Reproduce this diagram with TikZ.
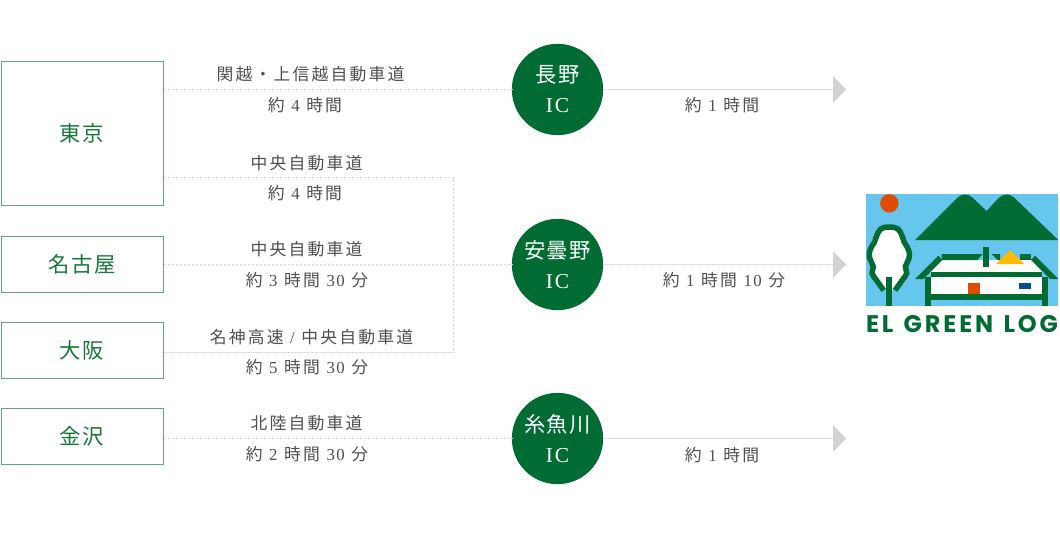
\documentclass[tikz,border=0pt]{standalone}
\usepackage{fontspec}
\setmainfont{Liberation Serif}[LetterSpace=9,WordSpace=1.15]
\newfontfamily\cjk{Noto Sans CJK JP}[LetterSpace=13]
\newfontfamily\cjkb{Noto Sans CJK JP}[LetterSpace=7]
\newfontfamily\logofont{Poppins}[UprightFont=* Bold,LetterSpace=12,WordSpace=1.3]
\newcommand{\Ja}[1]{{\cjk #1}}
\newcommand{\Jb}[1]{{\cjkb #1}}
\definecolor{dgreen}{HTML}{006B32}
\definecolor{boxline}{HTML}{5FA67C}
\definecolor{boxtext}{HTML}{17783C}
\definecolor{dotline}{HTML}{D8D8D8}
\definecolor{tri}{HTML}{D2D2D2}
\definecolor{labeltext}{HTML}{505050}
\definecolor{sky}{HTML}{66C6EE}
\definecolor{sunc}{HTML}{E04B00}
\definecolor{roofy}{HTML}{FFB900}
\definecolor{winb}{HTML}{00508C}
\tikzset{
  citybox/.style={draw=boxline,line width=0.75pt,fill=white,text=boxtext,font=\fontsize{16}{18}\selectfont,minimum width=121.5pt,inner sep=0pt,anchor=center},
  icnode/.style={circle,fill=dgreen,text=white,minimum size=68.5pt,inner sep=0pt,align=center,font=\fontsize{16}{22.5}\selectfont},
  roadlabel/.style={text=labeltext,font=\fontsize{12.6}{14}\selectfont,inner sep=0pt,anchor=center},
  dotted line/.style={draw=dotline,line width=0.75pt,dash pattern=on 1.8pt off 1.2pt},
  tritip/.style={fill=tri},
  lg/.style={fill=dgreen,draw=none}
}
\begin{document}
\begin{tikzpicture}[x=0.75pt,y=-0.75pt]
\useasboundingbox (0,0) rectangle (1060,543);
\node[citybox,minimum height=108pt] (tokyo) at (82,133) {\Jb{東京}};
\node[citybox,minimum height=42.5pt] (nagoya) at (82,264.5) {\raisebox{0.7pt}{\Jb{名古屋}}};
\node[citybox,minimum height=42.5pt] (osaka) at (82,350.5) {\raisebox{1pt}{\Jb{大阪}}};
\node[citybox,minimum height=42.5pt] (kanazawa) at (82,436.5) {\raisebox{1pt}{\Jb{金沢}}};
\node[icnode] (nagano) at (557.5,89.5) {\raisebox{-1.5pt}{\Jb{長野}}\\\raisebox{-1.5pt}{IC}};
\node[icnode] (azumino) at (557.5,264.5) {\raisebox{-1.5pt}{\Jb{安曇野}}\\\raisebox{-1.5pt}{IC}};
\node[icnode] (itoigawa) at (557.5,438.5) {\raisebox{-1.5pt}{\Jb{糸魚川}}\\\raisebox{-1.5pt}{IC}};
\coordinate (a1) at (833,89.5);
\coordinate (a2) at (833,264.5);
\coordinate (a3) at (833,438.5);
\coordinate (j1) at (453,177.5);
\coordinate (j2) at (453,352.5);
\draw[dotted line] (tokyo.east |- nagano) -- (nagano.west);
\draw[dotted line] (nagano.east) -- (a1);
\draw[dotted line] (tokyo.east |- j1) -- (j1) -- (j2) -- (osaka.east |- j2);
\draw[dotted line] (nagoya.east) -- (azumino.west);
\draw[dotted line] (azumino.east) -- (a2);
\draw[dotted line] (kanazawa.east |- itoigawa) -- (itoigawa.west);
\draw[dotted line] (itoigawa.east) -- (a3);
\foreach \a in {a1,a2,a3}{
  \fill[tritip,shift={(\a)}] (0,-13.5) -- (13,0) -- (0,13.5) -- cycle;
}
% labels
\node[roadlabel] (l1) at (310.5,74) {\Ja{関越・上信越自動車道}};
\node[roadlabel] (l2) at (305,105) {\Ja{約} 4 \Ja{時間}};
\node[roadlabel] (l3) at (306.5,163) {\Ja{中央自動車道}};
\node[roadlabel] (l4) at (305,193) {\Ja{約} 4 \Ja{時間}};
\node[roadlabel] (l5) at (306.5,249) {\Ja{中央自動車道}};
\node[roadlabel] (l6) at (307,280) {\Ja{約} 3 \Ja{時間} 30 \Ja{分}};
\node[roadlabel] (l7) at (311.5,337) {\Ja{名神高速} / \Ja{中央自動車道}};
\node[roadlabel] (l8) at (307,367) {\Ja{約} 5 \Ja{時間} 30 \Ja{分}};
\node[roadlabel] (l9) at (306.5,423) {\Ja{北陸自動車道}};
\node[roadlabel] (l10) at (307,454) {\Ja{約} 2 \Ja{時間} 30 \Ja{分}};
\node[roadlabel] (l11) at (722,105) {\Ja{約} 1 \Ja{時間}};
\node[roadlabel] (l12) at (724,280) {\Ja{約} 1 \Ja{時間} 10 \Ja{分}};
\node[roadlabel] (l13) at (722,455) {\Ja{約} 1 \Ja{時間}};
% logo, in zoom coordinates
\begin{scope}[shift={(860,185)},x=0.25pt,y=-0.25pt]
\fill[sky] (18,28) rectangle (595,362);
\fill[sunc] (88,55) circle [radius=27.5];
\fill[lg] (165,165) -- (285,45) .. controls (305,23) and (325,23) .. (345,45) -- (380,78) -- (410,45) .. controls (430,23) and (450,23) .. (470,45) -- (595,165) -- cycle;
% tree
\path[fill=white] plot[smooth cycle,tension=0.7] coordinates {(88,126) (114,132) (127,155) (133,172) (146,195) (147,220) (136,245) (140,265) (125,288) (100,312) (88,325) (76,312) (51,288) (36,265) (40,245) (29,220) (30,195) (43,172) (49,155) (62,132)};
\draw[dgreen,line width=4.1pt] plot[smooth,tension=0.7] coordinates {(105,316) (125,288) (140,265) (136,245) (147,220) (146,195) (133,172) (127,155) (114,132) (88,126) (62,132) (49,155) (43,172) (30,195) (29,220) (40,245) (36,265) (51,288) (71,316)};
\fill[lg] (79,275) rectangle (97,362);
% house
\fill[white] (210,262) -- (245,225) -- (515,225) -- (548,262) -- cycle;
\fill[white] (213,277) rectangle (547,330);
\fill[lg] (245,207) -- (368,207) -- (352,225) -- (245,225) -- cycle;
\fill[lg] (395,207) -- (420,207) -- (420,225) -- (413,225) -- cycle;
\fill[lg] (480,207) -- (513,207) -- (513,225) -- (480,225) -- cycle;
\fill[lg] (370,186) rectangle (388,245);
\fill[roofy] (408,237) -- (450,195) -- (492,237) -- cycle;
\fill[lg] (165,282) -- (235,212) -- (247,225) -- (190,282) -- cycle;
\fill[lg] (595,282) -- (525,212) -- (513,225) -- (570,282) -- cycle;
\fill[lg] (213,260) rectangle (547,277);
\fill[lg] (195,275) rectangle (213,362);
\fill[lg] (547,275) rectangle (565,362);
\fill[lg] (195,328) rectangle (565,345);
\fill[sunc] (324,293) rectangle (360,328);
\fill[winb] (478,293) rectangle (513,311);
\node[text=dgreen,inner sep=0pt,anchor=center,font=\logofont\fontsize{18}{18}\selectfont] (logotext) at (306,417) {EL GREEN LOG};
\end{scope}
\end{tikzpicture}
\end{document}
